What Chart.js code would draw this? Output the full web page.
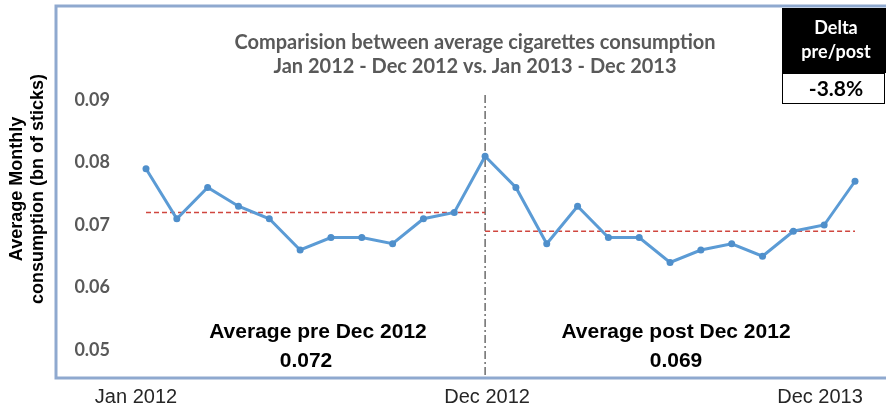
<!DOCTYPE html>
<html>
<head>
<meta charset="utf-8">
<script src="https://cdn.jsdelivr.net/npm/chart.js@4.4.1/dist/chart.umd.min.js"></script>
<style>
  html, body { margin: 0; padding: 0; background: #fff; }
</style>
</head>
<body>
<canvas id="mychart" width="886" height="413"></canvas>
<script>
const months = [
    'Jan 2012', 'Feb 2012', 'Mar 2012', 'Apr 2012', 'May 2012', 'Jun 2012',
    'Jul 2012', 'Aug 2012', 'Sep 2012', 'Oct 2012', 'Nov 2012', 'Dec 2012',
    'Jan 2013', 'Feb 2013', 'Mar 2013', 'Apr 2013', 'May 2013', 'Jun 2013',
    'Jul 2013', 'Aug 2013', 'Sep 2013', 'Oct 2013', 'Nov 2013', 'Dec 2013'
];
const consumption = [
    0.079, 0.071, 0.076, 0.073, 0.071, 0.066, 0.068, 0.068, 0.067, 0.071, 0.072, 0.081,
    0.076, 0.067, 0.073, 0.068, 0.068, 0.064, 0.066, 0.067, 0.065, 0.069, 0.070, 0.077
];
const yTicks = [0.05, 0.06, 0.07, 0.08, 0.09];
const shownMonths = ['Jan 2012', 'Dec 2012', 'Dec 2013'];
const splitMonth = 'Dec 2012';
const preAverage = 0.072;
const postAverage = 0.069;
const deltaText = '-3.8%';
const titleLines = ['Comparision between average cigarettes consumption', 'Jan 2012 - Dec 2012 vs. Jan 2013 - Dec 2013'];
const yTitleLines = ['Average Monthly', 'consumption (bn of sticks)'];

const splitIndex = months.indexOf(splitMonth);
const preLine = months.map((m, i) => i <= splitIndex ? preAverage : null);
const postLine = months.map((m, i) => i >= splitIndex ? postAverage : null);

const ctx = document.getElementById('mychart');

// frame, split marker, titles and labels
const decorations = {
    id: 'decorations',
    beforeDraw(chart) {
        const c = chart.ctx;
        const area = chart.chartArea;
        c.save();
        c.fillStyle = '#fff';
        c.fillRect(0, 0, chart.width, chart.height);
        c.strokeStyle = '#8FA9CF';
        c.lineWidth = 3;
        c.beginPath();
        c.moveTo(chart.width + 5, 6);
        c.lineTo(56, 6);
        c.lineTo(56, area.bottom);
        c.lineTo(chart.width + 5, area.bottom);
        c.stroke();
        c.restore();
    },
    beforeDatasetsDraw(chart) {
        const c = chart.ctx;
        const area = chart.chartArea;
        const x = chart.scales.x.getPixelForValue(splitIndex);
        c.save();
        c.strokeStyle = '#222';
        c.lineWidth = 1;
        c.setLineDash([8, 3, 2, 3]);
        c.beginPath();
        c.moveTo(x, area.top);
        c.lineTo(x, area.bottom - 2);
        c.stroke();
        c.restore();
    },
    afterDraw(chart) {
        const c = chart.ctx;
        const xs = chart.scales.x;
        c.save();
        c.textAlign = 'center';
        c.textBaseline = 'middle';

        // title
        c.fillStyle = '#595959';
        c.font = 'bold 20px Lato';
        c.fillText(titleLines[0], 475, 43);
        c.fillText(titleLines[1], 475, 67);

        // delta box
        c.fillStyle = '#000';
        c.fillRect(782, 8, 104, 65);
        c.fillStyle = '#fff';
        c.fillRect(782, 73, 102, 30);
        c.strokeStyle = '#000';
        c.lineWidth = 1;
        c.strokeRect(782.5, 73.5, 102, 30);
        c.fillStyle = '#fff';
        c.font = 'bold 18px Lato';
        c.fillText('Delta', 836, 28);
        c.fillText('pre/post', 836, 52);
        c.fillStyle = '#000';
        c.font = 'bold 21px Lato';
        c.fillText(deltaText, 836, 89);

        // averages
        c.fillStyle = '#000';
        c.font = 'bold 21px "Liberation Sans", Arial';
        c.fillText('Average pre ' + splitMonth, 318, 332);
        c.fillText(preAverage.toFixed(3), 306, 361);
        c.fillText('Average post ' + splitMonth, 676, 332);
        c.fillText(postAverage.toFixed(3), 676, 361);

        // month labels under the axis
        c.fillStyle = '#262626';
        c.font = '20px "Liberation Sans", Arial';
        const nudge = [-10, 2, -35];
        shownMonths.forEach((m, k) => {
            const x = xs.getPixelForValue(months.indexOf(m)) + nudge[k];
            c.fillText(m, x, 397);
        });

        // axis title
        c.fillStyle = '#000';
        c.font = 'bold 18px "Liberation Sans", Arial';
        c.translate(0, 189);
        c.rotate(-Math.PI / 2);
        c.fillText(yTitleLines[0], 0, 17);
        c.fillText(yTitleLines[1], 0, 38);
        c.restore();
    }
};

new Chart(ctx, {
    type: 'line',
    data: {
        labels: months,
        datasets: [
            {
                data: consumption,
                borderColor: '#5B9BD5',
                backgroundColor: '#5B9BD5',
                borderWidth: 3,
                pointRadius: 3.5,
                pointBorderWidth: 0,
                pointBackgroundColor: '#4F8FCB',
                tension: 0,
                order: 0
            },
            {
                data: preLine,
                borderColor: '#D0463F',
                borderWidth: 1.5,
                borderDash: [5, 3],
                pointRadius: 0,
                spanGaps: false,
                order: 1
            },
            {
                data: postLine,
                borderColor: '#D0463F',
                borderWidth: 1.5,
                borderDash: [5, 3],
                pointRadius: 0,
                spanGaps: false,
                order: 1
            }
        ]
    },
    options: {
        responsive: false,
        devicePixelRatio: 1,
        animation: false,
        layout: { padding: { top: 95, right: 31, bottom: 0, left: 0 } },
        plugins: { legend: { display: false }, tooltip: { enabled: false } },
        scales: {
            x: {
                grid: { display: false, drawTicks: false },
                border: { display: false },
                ticks: { display: false },
                afterFit(scale) {
                    scale.height = 35;
                    scale.paddingLeft = 0;
                    scale.paddingRight = 0;
                }
            },
            y: {
                min: 0.04552,
                max: 0.0908,
                grid: { display: false, drawTicks: false },
                border: { display: false },
                afterBuildTicks(scale) {
                    scale.ticks = yTicks.map(v => ({ value: v }));
                },
                ticks: {
                    padding: 36,
                    color: '#595959',
                    font: { family: 'Lato', weight: 'bold', size: 18 },
                    callback: v => v.toFixed(2)
                },
                afterFit(scale) {
                    scale.width = 146;
                    scale.paddingTop = 0;
                    scale.paddingBottom = 0;
                }
            }
        }
    },
    plugins: [decorations]
});
</script>
</body>
</html>
